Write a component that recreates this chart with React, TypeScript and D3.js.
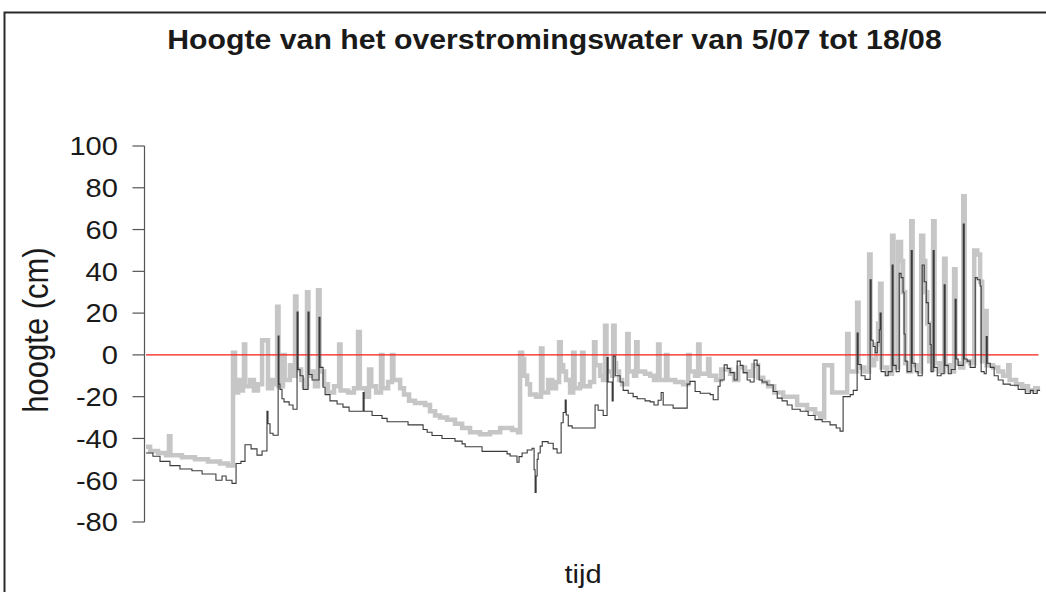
import React from "react";
import * as d3 from "d3";

// [time in days since 5/07, water height in cm]
const grayPoints: [number, number][] = [
  [0.00,-44],[0.20,-46],[0.59,-47],[0.98,-48],[1.13,-39],[1.20,-48],[1.77,-49],[2.41,-50],[3.05,-51],[3.64,-52],[4.03,-53],
  [4.28,1],[4.38,-18],[4.53,-12],[4.62,-17],[4.77,-14],[4.82,5],[4.88,-15],[5.12,-12],[5.31,-17],[5.51,-14],[5.71,7],[6.00,-16],
  [6.20,-12],[6.40,-14],[6.45,23],[6.52,-15],[6.74,0],[6.82,-12],[7.08,-5],[7.23,-10],[7.33,28],[7.40,-7],[7.63,-12],[7.77,-15],
  [7.92,30],[7.99,-10],[8.17,-8],[8.31,-15],[8.46,31],[8.54,-8],[8.76,-14],[8.95,-18],[9.25,-15],[9.50,5],[9.57,-17],[9.94,-18],
  [10.23,-16],[10.43,11],[10.52,-16],[10.82,-20],[10.97,-7],[11.08,-15],[11.32,-18],[11.56,0],[11.63,-16],[11.91,-13],[12.10,0],
  [12.17,-12],[12.50,-16],[12.69,-19],[12.94,-22],[13.23,-23],[13.73,-24],[13.97,-27],[14.22,-29],[14.46,-30],[14.81,-31],
  [15.20,-33],[15.55,-35],[15.94,-37],[16.43,-38],[16.92,-37],[17.42,-35],[18.01,-36],[18.30,-37],[18.40,1],[18.50,-2],[18.60,-10],
  [18.75,-14],[18.89,-19],[19.19,-20],[19.43,3],[19.50,-18],[19.78,-12],[19.98,-16],[20.17,-13],[20.32,6],[20.40,-5],[20.52,-8],
  [20.66,-12],[20.86,-18],[21.01,1],[21.08,-16],[21.35,-14],[21.45,1],[21.52,-15],[21.84,-13],[22.04,6],[22.11,-5],[22.34,-10],
  [22.48,-12],[22.58,14],[22.65,-8],[22.93,-10],[22.98,14],[23.05,-4],[23.12,-8],[23.27,-12],[23.42,-14],[23.67,10],[23.74,-8],
  [24.01,-10],[24.11,6],[24.18,-8],[24.55,-9],[24.80,-10],[24.99,-12],[25.19,5],[25.26,-12],[25.58,0],[25.65,-12],[26.03,-13],
  [26.42,-14],[26.67,0],[26.74,-8],[27.01,-10],[27.16,5],[27.23,-9],[27.65,-2],[27.72,-10],[28.04,-12],[28.29,-7],[28.73,-9],
  [28.93,-12],[29.13,-6],[29.47,-8],[29.72,-10],[29.86,-5],[30.11,-11],[30.36,-13],[30.60,-15],[30.90,-18],[31.34,-20],[32.03,-24],
  [32.52,-26],[32.91,-28],[33.16,-30],[33.36,-5],[33.75,-18],[34.49,10],[34.56,-8],[34.98,25],[35.05,-6],[35.33,-8],[35.57,48],
  [35.64,-5],[35.82,-2],[35.92,5],[36.01,15],[36.11,34],[36.18,-6],[36.46,-9],[36.70,57],[36.77,-6],[37.00,54],[37.14,45],
  [37.24,30],[37.34,-4],[37.49,-8],[37.64,64],[37.71,-5],[37.98,-8],[38.13,57],[38.23,45],[38.33,30],[38.43,15],[38.52,-3],
  [38.67,-7],[38.72,64],[38.79,-4],[39.06,-8],[39.26,46],[39.33,-5],[39.56,-8],[39.75,41],[39.82,-4],[40.05,-6],[40.20,76],
  [40.27,-3],[40.54,-4],[40.74,50],[40.89,48],[41.03,35],[41.13,-3],[41.28,21],[41.35,-5],[41.67,-6],[41.92,-8],[42.16,-10],
  [42.41,-5],[42.48,-12],[42.80,-14],[43.10,-15],[43.39,-17],[43.74,-16],[43.98,-16]
];

const blackPoints: [number, number][] = [
  [0.00,-47],[0.34,-48.5],[0.69,-51],[1.18,-53],[1.67,-54.6],[2.26,-55.5],[2.76,-57],[3.44,-60],[3.74,-58],[3.94,-60],[4.23,-61.5],
  [4.43,-52],[4.67,-51],[4.87,-43],[5.17,-45],[5.46,-48],[5.71,-46],[5.95,-27],[6.00,-33],[6.10,-37.5],[6.25,-38.5],[6.50,9],
  [6.54,-14],[6.59,-16.5],[6.69,-21],[6.79,-22.5],[7.04,-24],[7.23,-26],[7.43,20.5],[7.48,-7],[7.58,-10],[7.73,-16.5],[7.97,20.5],
  [8.02,-9.4],[8.17,-12],[8.51,18],[8.56,-6],[8.71,-15.5],[8.81,-19],[9.05,-22],[9.40,-23.5],[9.69,-25],[9.99,-27],[10.68,-18],
  [10.73,-27],[11.12,-29],[11.61,-30.4],[11.86,-32],[12.89,-33.5],[13.63,-35.7],[13.83,-37],[14.07,-38.6],[14.56,-40],[15.20,-41.3],
  [15.55,-42.6],[15.70,-44],[16.53,-46.2],[17.76,-47.4],[17.91,-48.4],[18.25,-51.4],[18.35,-48.7],[18.50,-47],[18.75,-45.5],
  [18.99,-44.7],[19.09,-55],[19.14,-65.8],[19.19,-58],[19.24,-50],[19.29,-47],[19.39,-43.7],[19.49,-41.5],[19.78,-42.3],[20.03,-45],
  [20.22,-47],[20.42,-32.5],[20.52,-27.6],[20.62,-21.6],[20.67,-28.8],[20.77,-34],[20.96,-35],[22.09,-24],[22.24,-26.5],[22.49,-29],
  [22.68,-1.3],[22.73,-13],[22.93,-22],[22.98,-0.6],[23.08,-10],[23.32,-13],[23.47,-17],[23.72,-18.4],[23.96,-20],[24.16,-21],
  [24.55,-22],[24.80,-22.5],[24.99,-24],[25.19,-21.7],[25.34,-18],[25.44,-24],[25.93,-25.5],[26.62,-14],[26.76,-12.7],[27.01,-17.5],
  [27.26,-18.4],[27.75,-19],[27.90,-21.5],[28.14,-15],[28.24,-12],[28.44,-4.8],[28.59,-6.5],[28.73,-8.5],[28.93,-12],[29.08,-3],
  [29.23,-5],[29.37,-8.5],[29.57,-12],[29.72,-13],[29.91,-2.5],[30.06,-5],[30.16,-12],[30.31,-13],[30.55,-14.4],[30.85,-17.5],
  [31.05,-20.7],[31.29,-22],[31.54,-24],[31.78,-26],[32.18,-27],[32.57,-29],[32.91,-31],[33.26,-32],[33.65,-33.5],[33.95,-35],
  [34.14,-36.5],[34.29,-20],[34.64,-19],[34.79,-17],[34.98,10.5],[35.03,-4.6],[35.18,-10],[35.37,-11.7],[35.62,36],[35.67,7],
  [35.77,4],[35.87,1],[35.97,6],[36.07,12],[36.11,20],[36.16,-8],[36.36,-10],[36.51,-8],[36.70,43],[36.75,-5],[36.90,-8],
  [37.05,39],[37.14,37],[37.24,30],[37.29,10],[37.34,-3],[37.44,-8],[37.64,50],[37.69,-4],[37.84,-8],[37.98,-10],[38.18,43],
  [38.28,35],[38.38,25],[38.48,15],[38.57,5],[38.62,-8],[38.72,50],[38.77,-6],[38.92,-10],[39.11,-9],[39.26,33.6],[39.31,-5],
  [39.46,-9],[39.61,-7],[39.80,26.6],[39.85,-2],[39.95,-5],[40.20,62.6],[40.25,-2],[40.39,-3],[40.54,-6],[40.79,37],[40.89,36],
  [41.03,33],[41.08,-8],[41.23,-9],[41.33,8.8],[41.38,-4],[41.53,-6],[41.72,-10],[41.92,-12],[42.16,-14],[42.51,-14.5],
  [42.90,-16.5],[43.25,-18.5],[43.50,-17],[43.64,-18.5],[43.84,-17],[43.98,-17]
];

const yTicks = [100, 80, 60, 40, 20, 0, -20, -40, -60, -80];
const titleText = "Hoogte van het overstromingswater van 5/07 tot 18/08";
const yLabel = "hoogte (cm)";
const xLabel = "tijd";

export default function App() {
  const W = 1046, H = 592;
  const x = d3.scaleLinear().domain([0, 44]).range([146, 1040.5]);
  const y = d3.scaleLinear().domain([-80, 100]).range([522, 146]);
  const line = d3.line<[number, number]>().x((d) => x(d[0])).y((d) => y(d[1])).curve(d3.curveStepAfter);
  const grayPath = line(grayPoints) || "";
  const blackPath = line(blackPoints) || "";
  const font = "'Liberation Sans', Arial, Helvetica, sans-serif";
  const sx = 1.12;
  const axisX = 144.5;
  return (
    <svg width={W} height={H} style={{ position: "absolute", left: 0, top: 0, background: "#fff" }}>
      <rect x={4.5} y={12.5} width={1100} height={700} fill="none" stroke="#2a2a2a" strokeWidth={2} />
      <text transform={`translate(554.5,49) scale(${sx},1)`} textAnchor="middle" fontFamily={font} fontWeight="bold" fontSize={27} fill="#1a1a1a">{titleText}</text>
      <line x1={axisX} x2={axisX} y1={y(100)} y2={y(-80)} stroke="#555" strokeWidth={1.2} />
      {yTicks.map((t) => (
        <g key={t}>
          <line x1={axisX - 12} x2={axisX} y1={y(t)} y2={y(t)} stroke="#555" strokeWidth={1.2} />
          <text transform={`translate(118,${y(t)}) scale(${sx},1)`} dy="0.36em" textAnchor="end" fontFamily={font} fontSize={26} fill="#1a1a1a">{t}</text>
        </g>
      ))}
      <text transform={`translate(48,330) rotate(-90) scale(1,${sx})`} textAnchor="middle" fontFamily={font} fontSize={31} fill="#1a1a1a">{yLabel}</text>
      <text transform={`translate(583,583) scale(${sx},1)`} textAnchor="middle" fontFamily={font} fontSize={26} fill="#1a1a1a">{xLabel}</text>
      <path d={grayPath} fill="none" stroke="#c6c6c6" strokeWidth={4.5} strokeLinejoin="miter" />
      <line x1={x(0)} x2={x(43.9)} y1={y(0)} y2={y(0)} stroke="#ff1a1a" strokeWidth={1.2} />
      <path d={blackPath} fill="none" stroke="#3a3a3a" strokeWidth={1.1} />
    </svg>
  );
}
